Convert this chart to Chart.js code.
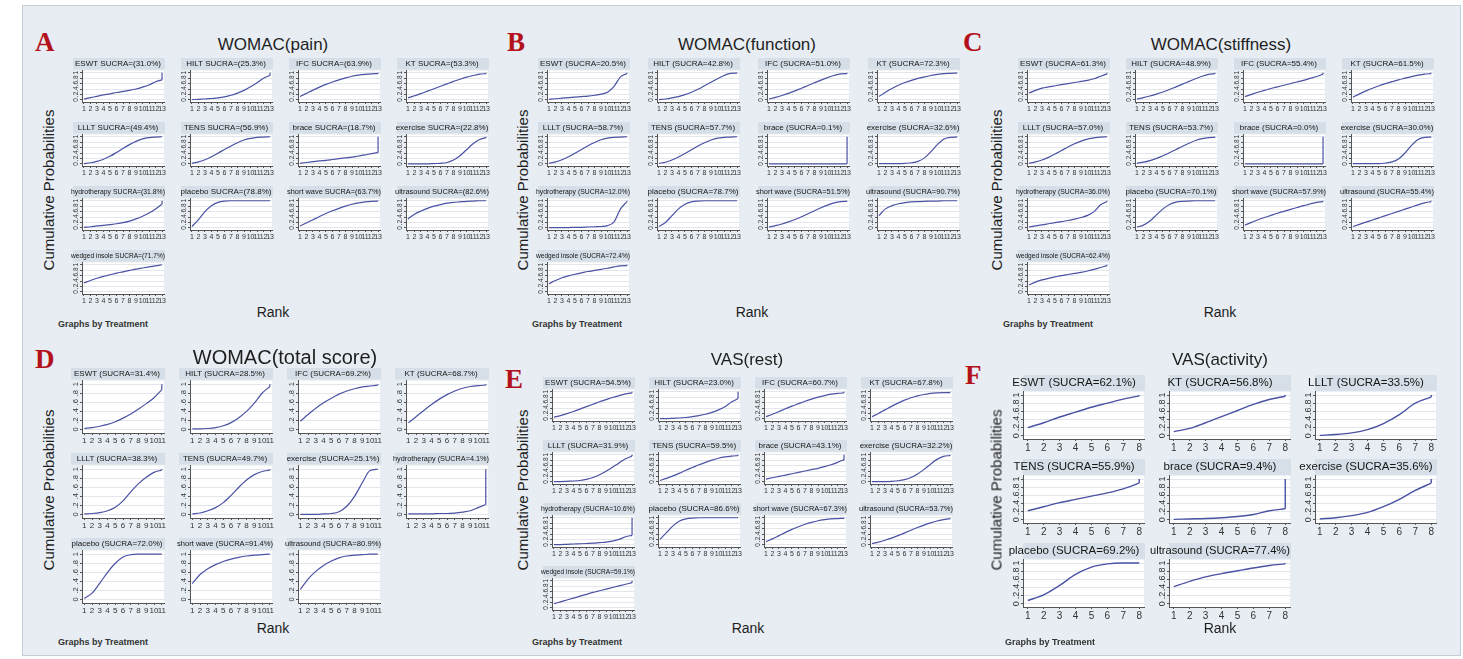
<!DOCTYPE html>
<html>
<head>
<meta charset="utf-8">
<script src="https://cdn.jsdelivr.net/npm/chart.js@4.4.1/dist/chart.umd.min.js"></script>
<style>
  body { margin: 0; width: 1463px; height: 659px; overflow: hidden; background: #fff; font-family: "Liberation Sans", Arial, sans-serif; }
  #fig { position: absolute; left: 22px; top: 5px; width: 1437px; height: 649px; background: #e7edf2; border: 1px solid #c3ced6; }
  .abs { position: absolute; white-space: nowrap; color: #1e1e1e; z-index: 2; }
  .letter { font-family: "Liberation Serif", "DejaVu Serif", serif; font-weight: bold; color: #b3121c; font-size: 27px; line-height: 1; }
  .ttl { font-size: 17px; transform: translate(-50%, -50%); }
  .ylab { font-size: 15px; transform: translate(-50%, -50%) rotate(-90deg); }
  .rank { font-size: 14px; transform: translate(-50%, -50%); }
  .gbt { font-size: 9px; font-weight: bold; color: #333; transform: translateY(-50%); }
  canvas { position: absolute; z-index: 1; }
</style>
</head>
<body>
<div id="fig"></div>
<script>
// rank tick labels
const ranks13 = [1, 2, 3, 4, 5, 6, 7, 8, 9, 10, 11, 12, 13];
const ranks11 = [1, 2, 3, 4, 5, 6, 7, 8, 9, 10, 11];
const ranks8 = [1, 2, 3, 4, 5, 6, 7, 8];
const probTicks = [0, 0.2, 0.4, 0.6, 0.8, 1];

// A - WOMAC(pain)
const painNames = ["ESWT", "HILT", "IFC", "KT", "LLLT", "TENS", "brace", "exercise", "hydrotherapy", "placebo", "short wave", "ultrasound", "wedged insole"];
const painSucra = [31.0, 25.3, 63.9, 53.3, 49.4, 56.9, 18.7, 22.8, 31.8, 78.8, 63.7, 82.6, 71.7];
const painCum = [
  [0.03, 0.08, 0.13, 0.18, 0.22, 0.27, 0.31, 0.35, 0.40, 0.47, 0.55, 0.67, 0.74],
  [0.01, 0.02, 0.03, 0.05, 0.07, 0.11, 0.17, 0.25, 0.35, 0.48, 0.63, 0.80, 0.90],
  [0.12, 0.24, 0.36, 0.47, 0.57, 0.66, 0.74, 0.81, 0.87, 0.91, 0.94, 0.96, 0.97],
  [0.07, 0.15, 0.23, 0.32, 0.41, 0.50, 0.59, 0.68, 0.76, 0.84, 0.90, 0.95, 0.97],
  [0.01, 0.04, 0.09, 0.17, 0.28, 0.42, 0.57, 0.71, 0.83, 0.92, 0.97, 0.99, 1],
  [0.02, 0.07, 0.15, 0.26, 0.39, 0.53, 0.66, 0.78, 0.88, 0.94, 0.98, 0.99, 1],
  [0.02, 0.05, 0.08, 0.11, 0.13, 0.16, 0.19, 0.22, 0.25, 0.29, 0.33, 0.38, 0.42],
  [0, 0, 0, 0, 0.01, 0.02, 0.05, 0.14, 0.30, 0.52, 0.74, 0.90, 0.97],
  [0.02, 0.04, 0.07, 0.09, 0.12, 0.15, 0.19, 0.25, 0.33, 0.43, 0.55, 0.70, 0.88],
  [0.05, 0.30, 0.60, 0.82, 0.94, 0.99, 1, 1, 1, 1, 1, 1, 1],
  [0.07, 0.18, 0.30, 0.42, 0.53, 0.63, 0.72, 0.80, 0.87, 0.92, 0.96, 0.98, 0.99],
  [0.33, 0.50, 0.62, 0.72, 0.80, 0.86, 0.91, 0.94, 0.96, 0.98, 0.99, 1, 1],
  [0.33, 0.42, 0.50, 0.57, 0.63, 0.69, 0.74, 0.79, 0.84, 0.88, 0.92, 0.96, 1]
];

// B - WOMAC(function)
const functionNames = painNames;
const functionSucra = [20.5, 42.8, 51.0, 72.3, 58.7, 57.7, 0.1, 32.6, 12.0, 78.7, 51.5, 90.7, 72.4];
const functionCum = [
  [0.02, 0.04, 0.06, 0.08, 0.10, 0.12, 0.14, 0.17, 0.21, 0.28, 0.50, 0.85, 0.97],
  [0.01, 0.03, 0.07, 0.12, 0.19, 0.28, 0.39, 0.52, 0.65, 0.78, 0.90, 0.98, 0.99],
  [0.03, 0.09, 0.16, 0.24, 0.33, 0.43, 0.53, 0.63, 0.73, 0.82, 0.90, 0.96, 0.97],
  [0.12, 0.28, 0.42, 0.54, 0.64, 0.72, 0.79, 0.85, 0.90, 0.94, 0.97, 0.98, 0.99],
  [0.02, 0.07, 0.15, 0.26, 0.39, 0.53, 0.67, 0.79, 0.89, 0.95, 0.98, 0.99, 1],
  [0.02, 0.06, 0.14, 0.25, 0.38, 0.52, 0.66, 0.78, 0.88, 0.95, 0.98, 0.99, 1],
  [0, 0, 0, 0, 0, 0, 0, 0, 0, 0, 0, 0, 0],
  [0.01, 0.01, 0.01, 0.01, 0.02, 0.04, 0.09, 0.22, 0.45, 0.72, 0.92, 0.98, 0.99],
  [0.01, 0.01, 0.01, 0.01, 0.02, 0.02, 0.03, 0.04, 0.05, 0.08, 0.22, 0.70, 0.97],
  [0.05, 0.20, 0.45, 0.70, 0.87, 0.96, 0.99, 1, 1, 1, 1, 1, 1],
  [0.03, 0.08, 0.14, 0.22, 0.31, 0.41, 0.52, 0.63, 0.74, 0.84, 0.92, 0.97, 0.98],
  [0.45, 0.70, 0.82, 0.89, 0.93, 0.96, 0.97, 0.98, 0.99, 0.99, 1, 1, 1],
  [0.30, 0.42, 0.52, 0.59, 0.65, 0.70, 0.75, 0.79, 0.83, 0.87, 0.92, 0.96, 0.97]
];

// C - WOMAC(stiffness)
const stiffnessNames = painNames;
const stiffnessSucra = [61.3, 48.9, 55.4, 61.5, 57.0, 53.7, 0.0, 30.0, 36.0, 70.1, 57.9, 55.4, 62.4];
const stiffnessCum = [
  [0.25, 0.35, 0.43, 0.48, 0.52, 0.56, 0.60, 0.64, 0.68, 0.72, 0.78, 0.87, 0.96],
  [0.03, 0.08, 0.14, 0.21, 0.29, 0.38, 0.48, 0.58, 0.68, 0.78, 0.87, 0.94, 0.97],
  [0.12, 0.20, 0.28, 0.35, 0.42, 0.48, 0.54, 0.60, 0.66, 0.72, 0.79, 0.86, 0.95],
  [0.10, 0.22, 0.33, 0.43, 0.52, 0.60, 0.67, 0.74, 0.80, 0.86, 0.91, 0.95, 0.97],
  [0.02, 0.07, 0.14, 0.24, 0.36, 0.49, 0.62, 0.74, 0.84, 0.91, 0.96, 0.99, 1],
  [0.02, 0.06, 0.12, 0.20, 0.30, 0.41, 0.53, 0.65, 0.76, 0.86, 0.93, 0.97, 0.98],
  [0, 0, 0, 0, 0, 0, 0, 0, 0, 0, 0, 0, 0],
  [0.01, 0.01, 0.01, 0.01, 0.01, 0.03, 0.07, 0.18, 0.40, 0.68, 0.90, 0.98, 0.99],
  [0.03, 0.07, 0.11, 0.15, 0.19, 0.23, 0.27, 0.32, 0.38, 0.46, 0.60, 0.85, 0.97],
  [0.03, 0.10, 0.25, 0.48, 0.70, 0.86, 0.95, 0.98, 0.99, 1, 1, 1, 1],
  [0.10, 0.20, 0.30, 0.38, 0.46, 0.54, 0.61, 0.68, 0.75, 0.82, 0.88, 0.94, 0.97],
  [0.05, 0.13, 0.21, 0.29, 0.37, 0.45, 0.53, 0.61, 0.69, 0.77, 0.85, 0.92, 0.97],
  [0.25, 0.36, 0.44, 0.50, 0.55, 0.60, 0.64, 0.68, 0.72, 0.77, 0.83, 0.90, 0.97]
];

// D - WOMAC(total score)
const totalNames = ["ESWT", "HILT", "IFC", "KT", "LLLT", "TENS", "exercise", "hydrotherapy", "placebo", "short wave", "ultrasound"];
const totalSucra = [31.4, 28.5, 69.2, 68.7, 38.3, 49.7, 25.1, 4.1, 72.0, 91.4, 80.9];
const totalCum = [
  [0.02, 0.04, 0.07, 0.11, 0.17, 0.25, 0.34, 0.45, 0.57, 0.70, 0.88],
  [0.01, 0.01, 0.02, 0.04, 0.08, 0.15, 0.26, 0.40, 0.58, 0.80, 0.95],
  [0.18, 0.33, 0.47, 0.59, 0.69, 0.78, 0.85, 0.90, 0.94, 0.96, 0.98],
  [0.15, 0.28, 0.42, 0.55, 0.67, 0.77, 0.85, 0.91, 0.95, 0.97, 0.98],
  [0.01, 0.02, 0.04, 0.08, 0.16, 0.30, 0.50, 0.68, 0.82, 0.93, 0.98],
  [0.01, 0.03, 0.08, 0.15, 0.26, 0.42, 0.60, 0.76, 0.88, 0.95, 0.98],
  [0, 0, 0, 0.01, 0.02, 0.06, 0.18, 0.40, 0.70, 0.97, 1],
  [0.01, 0.01, 0.01, 0.01, 0.02, 0.02, 0.03, 0.05, 0.08, 0.15, 0.22],
  [0.02, 0.14, 0.36, 0.60, 0.80, 0.94, 0.99, 1, 1, 1, 1],
  [0.35, 0.55, 0.68, 0.77, 0.84, 0.89, 0.93, 0.96, 0.98, 0.99, 1],
  [0.22, 0.45, 0.62, 0.75, 0.85, 0.92, 0.96, 0.98, 0.99, 1, 1]
];

// E - VAS(rest)
const restNames = painNames;
const restSucra = [54.5, 23.0, 60.7, 67.8, 31.9, 59.5, 43.1, 32.2, 10.6, 86.6, 67.3, 53.7, 59.1];
const restCum = [
  [0.06, 0.12, 0.19, 0.27, 0.36, 0.45, 0.54, 0.63, 0.71, 0.79, 0.86, 0.92, 0.96],
  [0.01, 0.01, 0.02, 0.03, 0.05, 0.08, 0.12, 0.17, 0.24, 0.33, 0.45, 0.62, 0.75],
  [0.08, 0.17, 0.27, 0.37, 0.47, 0.56, 0.65, 0.73, 0.80, 0.86, 0.91, 0.94, 0.96],
  [0.08, 0.20, 0.33, 0.46, 0.58, 0.69, 0.78, 0.85, 0.90, 0.94, 0.96, 0.97, 0.97],
  [0.01, 0.01, 0.02, 0.03, 0.05, 0.09, 0.16, 0.26, 0.39, 0.54, 0.70, 0.85, 0.95],
  [0.05, 0.13, 0.22, 0.32, 0.43, 0.53, 0.63, 0.72, 0.80, 0.87, 0.92, 0.95, 0.97],
  [0.10, 0.15, 0.20, 0.25, 0.30, 0.35, 0.40, 0.45, 0.50, 0.56, 0.63, 0.72, 0.82],
  [0.01, 0.01, 0.01, 0.02, 0.04, 0.08, 0.16, 0.29, 0.46, 0.65, 0.83, 0.94, 0.97],
  [0.01, 0.01, 0.02, 0.03, 0.04, 0.05, 0.06, 0.08, 0.10, 0.14, 0.20, 0.30, 0.35],
  [0.20, 0.45, 0.70, 0.88, 0.96, 0.99, 1, 1, 1, 1, 1, 1, 1],
  [0.12, 0.22, 0.34, 0.46, 0.57, 0.67, 0.76, 0.83, 0.89, 0.93, 0.96, 0.97, 0.98],
  [0.05, 0.10, 0.17, 0.25, 0.34, 0.44, 0.54, 0.64, 0.73, 0.81, 0.88, 0.93, 0.97],
  [0.15, 0.22, 0.29, 0.36, 0.43, 0.50, 0.57, 0.63, 0.69, 0.75, 0.81, 0.87, 0.93]
];

// F - VAS(activity)
const activityNames = ["ESWT", "KT", "LLLT", "TENS", "brace", "exercise", "placebo", "ultrasound"];
const activitySucra = [62.1, 56.8, 33.5, 55.9, 9.4, 35.6, 69.2, 77.4];
const activityCum = [
  [0.20, 0.32, 0.46, 0.58, 0.70, 0.80, 0.90, 0.98],
  [0.10, 0.18, 0.32, 0.47, 0.62, 0.77, 0.89, 0.97],
  [0.01, 0.03, 0.07, 0.15, 0.30, 0.52, 0.80, 0.95],
  [0.22, 0.32, 0.42, 0.50, 0.58, 0.66, 0.76, 0.90],
  [0.01, 0.02, 0.03, 0.05, 0.08, 0.13, 0.22, 0.27],
  [0.02, 0.05, 0.10, 0.18, 0.32, 0.50, 0.72, 0.90],
  [0.08, 0.22, 0.45, 0.72, 0.90, 0.98, 1, 1],
  [0.42, 0.55, 0.66, 0.74, 0.81, 0.88, 0.94, 0.98]
];

const LINE = "#4a52a3";
const STRIP = "#d6dfe7";
const AXIS = "#555";
const GRID = "#e3e6ea";
const FONT = "Liberation Sans, Arial, sans-serif";

const fmtA = (n, s) => n + " SUCRA=(" + s.toFixed(1) + "%)";
const fmtB = (n, s) => n + " (SUCRA=" + s.toFixed(1) + "%)";

const small = { cols: 4, colW: 108, rowH: 64, w: 96, h: 56, yw: 11, xh: 12, tFont: 8, xFont: 7, yFont: 6.5, lw: 1.2, strip0: 2, tSize: 17 };
const panels = [
  Object.assign({}, small, { letter: "A", title: "WOMAC(pain)", names: painNames, sucra: painSucra, cum: painCum, ranks: ranks13, fmt: fmtA,
    left: 71, top: 58, lx: 35, ly: 29, tx: 273, ty: 45, yl: [48, 190], rk: [273, 312], gb: [58, 324] }),
  Object.assign({}, small, { letter: "B", title: "WOMAC(function)", names: functionNames, sucra: functionSucra, cum: functionCum, ranks: ranks13, fmt: fmtB,
    left: 536, top: 58, colW: 110, lx: 507, ly: 29, tx: 747, ty: 45, yl: [522, 190], rk: [752, 312], gb: [532, 324] }),
  Object.assign({}, small, { letter: "C", title: "WOMAC(stiffness)", names: stiffnessNames, sucra: stiffnessSucra, cum: stiffnessCum, ranks: ranks13, fmt: fmtB,
    left: 1016, top: 58, lx: 963, ly: 29, tx: 1221, ty: 45, yl: [996, 190], rk: [1220, 312], gb: [1003, 324] }),
  Object.assign({}, small, { letter: "D", title: "WOMAC(total score)", names: totalNames, sucra: totalSucra, cum: totalCum, ranks: ranks11, fmt: fmtB,
    left: 69, top: 368, rowH: 85, w: 98, h: 79, yw: 13, xh: 14, xFont: 8, yFont: 7.5, tSize: 20,
    lx: 35, ly: 346, tx: 285, ty: 357, yl: [48, 490], rk: [273, 628], gb: [58, 642] }),
  Object.assign({}, small, { letter: "E", title: "VAS(rest)", names: restNames, sucra: restSucra, cum: restCum, ranks: ranks13, fmt: fmtB,
    left: 541, top: 377, colW: 106, rowH: 63, lx: 505, ly: 366, tx: 747, ty: 360, yl: [522, 490], rk: [748, 628], gb: [532, 642] }),
  Object.assign({}, small, { letter: "F", title: "VAS(activity)", names: activityNames, sucra: activitySucra, cum: activityCum, ranks: ranks8, fmt: fmtB,
    cols: 3, left: 1004, top: 375, colW: 146, rowH: 84, w: 142, h: 80, yw: 19, xh: 16, tFont: 11.5, xFont: 10, yFont: 9, lw: 1.4, strip0: -1,
    lx: 965, ly: 362, tx: 1220, ty: 360, yl: [996, 490], rk: [1220, 628], gb: [1005, 642] })
];

function addText(cls, txt, x, y, size) {
  const d = document.createElement("div");
  d.className = "abs " + cls;
  d.textContent = txt;
  d.style.left = x + "px";
  d.style.top = y + "px";
  if (size) d.style.fontSize = size + "px";
  document.body.appendChild(d);
}

// strip behind the title and white plot area
const stripPlugin = {
  id: "strip",
  beforeDraw(chart, args, opts) {
    const { ctx, chartArea, titleBlock } = chart;
    ctx.save();
    ctx.fillStyle = STRIP;
    const x0 = opts.x0 < 0 ? chartArea.left : opts.x0;
    ctx.fillRect(x0, titleBlock.top, chartArea.right + 1 - x0, titleBlock.height - 1);
    ctx.fillStyle = "#fff";
    ctx.fillRect(chartArea.left, chartArea.top, chartArea.right - chartArea.left, chartArea.bottom - chartArea.top);
    ctx.restore();
  }
};

function makeChart(p, i) {
  const col = i % p.cols, row = Math.floor(i / p.cols);
  const cv = document.createElement("canvas");
  cv.width = p.w; cv.height = p.h;
  cv.style.width = p.w + "px"; cv.style.height = p.h + "px";
  cv.style.left = (p.left + col * p.colW) + "px";
  cv.style.top = (p.top + row * p.rowH) + "px";
  document.body.appendChild(cv);

  const vals = p.cum[i];
  const n = p.ranks.length;
  const datasets = [{
    data: vals.map((v, k) => ({ x: p.ranks[k], y: v })),
    borderColor: LINE, borderWidth: p.lw, pointRadius: 0, cubicInterpolationMode: "monotone"
  }];
  const last = vals[n - 1];
  if (last < 1) {
    datasets.push({ data: [{ x: p.ranks[n - 1], y: last }, { x: p.ranks[n - 1], y: 1 }],
      borderColor: LINE, borderWidth: p.lw, pointRadius: 0, tension: 0 });
  }

  new Chart(cv, {
    type: "line",
    data: { datasets },
    plugins: [stripPlugin],
    options: {
      responsive: false,
      animation: false,
      events: [],
      layout: { padding: { left: 0, right: 2, top: 0, bottom: 0 } },
      plugins: {
        legend: { display: false },
        tooltip: { enabled: false },
        strip: { x0: p.strip0 },
        title: {
          display: true, text: p.fmt(p.names[i], p.sucra[i]), color: "#151515",
          font: { family: FONT, size: p.tFont, weight: "normal" },
          padding: { top: 1, bottom: 2 }
        }
      },
      scales: {
        x: {
          type: "linear", min: 0.7, max: n + 0.3,
          afterBuildTicks: s => { s.ticks = p.ranks.map(v => ({ value: v })); },
          afterFit: s => { s.height = p.xh; },
          ticks: { autoSkip: false, maxRotation: 0, minRotation: 0, padding: 1, color: "#333",
            font: { family: FONT, size: p.xFont } },
          grid: { drawOnChartArea: false, tickLength: 2, tickColor: AXIS },
          border: { color: AXIS }
        },
        y: {
          min: -0.08, max: 1.08,
          afterBuildTicks: s => { s.ticks = probTicks.map(v => ({ value: v })); },
          afterFit: s => { s.width = p.yw; },
          ticks: { autoSkip: false, minRotation: 90, maxRotation: 90, crossAlign: "center", padding: 1, color: "#333",
            font: { family: FONT, size: p.yFont },
            callback: v => (v === 0 || v === 1) ? String(v) : v.toFixed(1).replace(/^0/, "") },
          grid: { color: GRID, tickLength: 2, tickColor: AXIS },
          border: { color: AXIS }
        }
      }
    }
  });
}

panels.forEach(p => {
  addText("letter", p.letter, p.lx, p.ly);
  addText("ttl", p.title, p.tx, p.ty, p.tSize);
  addText("ylab", "Cumulative Probabilities", p.yl[0], p.yl[1]);
  addText("rank", "Rank", p.rk[0], p.rk[1]);
  addText("gbt", "Graphs by Treatment", p.gb[0], p.gb[1]);
  p.names.forEach((nm, i) => makeChart(p, i));
});
</script>
</body>
</html>
